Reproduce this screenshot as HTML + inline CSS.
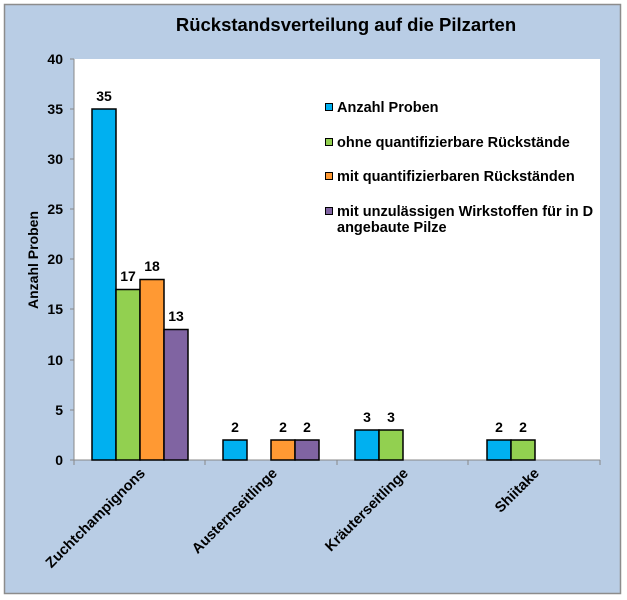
<!DOCTYPE html>
<html><head><meta charset="utf-8"><style>body{margin:0;background:#fff}svg{display:block;font-family:"Liberation Sans",Arial,sans-serif}</style></head><body>
<svg width="627" height="600" xmlns="http://www.w3.org/2000/svg">
<rect x="4.5" y="4.5" width="616" height="589" fill="#b9cde5" stroke="#8c8c8c" stroke-width="1.5"/>
<text x="346" y="31" font-size="18.5" font-weight="bold" text-anchor="middle">Rückstandsverteilung auf die Pilzarten</text>
<rect x="74" y="59" width="526" height="401" fill="#fff"/>
<g stroke="#888" stroke-width="1">
<line x1="74" y1="59" x2="74" y2="460"/><line x1="74" y1="460" x2="600" y2="460"/>
<line x1="70" y1="59" x2="74" y2="59"/><line x1="70" y1="109" x2="74" y2="109"/><line x1="70" y1="159" x2="74" y2="159"/><line x1="70" y1="209" x2="74" y2="209"/><line x1="70" y1="259" x2="74" y2="259"/><line x1="70" y1="309" x2="74" y2="309"/><line x1="70" y1="360" x2="74" y2="360"/><line x1="70" y1="410" x2="74" y2="410"/><line x1="70" y1="460" x2="74" y2="460"/>
<line x1="74" y1="460" x2="74" y2="465"/><line x1="205" y1="460" x2="205" y2="465"/><line x1="337" y1="460" x2="337" y2="465"/><line x1="468" y1="460" x2="468" y2="465"/><line x1="600" y1="460" x2="600" y2="465"/>
</g>
<g font-size="14" font-weight="bold" text-anchor="end">
<text x="63" y="64">40</text><text x="63" y="114">35</text><text x="63" y="164">30</text><text x="63" y="214">25</text><text x="63" y="264">20</text><text x="63" y="314">15</text><text x="63" y="365">10</text><text x="63" y="415">5</text><text x="63" y="465">0</text>
</g>
<text transform="translate(38,260) rotate(-90)" font-size="14" font-weight="bold" text-anchor="middle">Anzahl Proben</text>
<g stroke="#000" stroke-width="1.5">
<rect x="92" y="109" width="24" height="351" fill="#00b0f0"/>
<rect x="116" y="289.5" width="24" height="170.5" fill="#92d050"/>
<rect x="140" y="279.5" width="24" height="180.5" fill="#ff9933"/>
<rect x="164" y="329.5" width="24" height="130.5" fill="#8064a2"/>
<rect x="223" y="440" width="24" height="20" fill="#00b0f0"/>
<rect x="271" y="440" width="24" height="20" fill="#ff9933"/>
<rect x="295" y="440" width="24" height="20" fill="#8064a2"/>
<rect x="355" y="430" width="24" height="30" fill="#00b0f0"/>
<rect x="379" y="430" width="24" height="30" fill="#92d050"/>
<rect x="487" y="440" width="24" height="20" fill="#00b0f0"/>
<rect x="511" y="440" width="24" height="20" fill="#92d050"/>
</g>
<g font-size="14" font-weight="bold" text-anchor="middle">
<text x="104" y="101">35</text><text x="128" y="281">17</text><text x="152" y="271">18</text><text x="176" y="321">13</text>
<text x="235" y="432">2</text><text x="283" y="432">2</text><text x="307" y="432">2</text>
<text x="367" y="422">3</text><text x="391" y="422">3</text>
<text x="499" y="432">2</text><text x="523" y="432">2</text>
</g>
<g font-size="14.5" font-weight="bold" text-anchor="end">
<text transform="translate(146,474) rotate(-45)">Zuchtchampignons</text>
<text transform="translate(278,474) rotate(-45)">Austernseitlinge</text>
<text transform="translate(409,474) rotate(-45)">Kräuterseitlinge</text>
<text transform="translate(540,474) rotate(-45)">Shiitake</text>
</g>
<g stroke="#000" stroke-width="1">
<rect x="325.5" y="103.5" width="7" height="7" fill="#00b0f0"/>
<rect x="325.5" y="138.5" width="7" height="7" fill="#92d050"/>
<rect x="325.5" y="172.5" width="7" height="7" fill="#ff9933"/>
<rect x="325.5" y="207.5" width="7" height="7" fill="#8064a2"/>
</g>
<g font-size="14.5" font-weight="bold">
<text x="337" y="112">Anzahl Proben</text>
<text x="337" y="147">ohne quantifizierbare Rückstände</text>
<text x="337" y="181">mit quantifizierbaren Rückständen</text>
<text x="337" y="216">mit unzulässigen Wirkstoffen für in D</text>
<text x="337" y="232">angebaute Pilze</text>
</g>
</svg>
</body></html>
